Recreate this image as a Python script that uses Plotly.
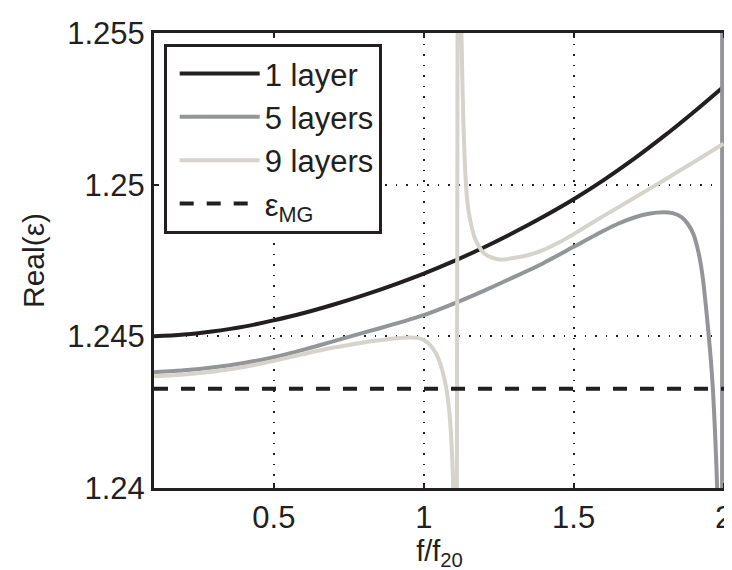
import plotly.graph_objects as go

# ---- data ----
x_one = [0.1, 0.2, 0.3, 0.4, 0.5, 0.6, 0.7, 0.8, 0.9, 1.0, 1.1, 1.2, 1.3, 1.4, 1.5,
         1.6, 1.7, 1.8, 1.9, 2.0]
y_one = [1.24500, 1.24506, 1.24517, 1.24532, 1.24553, 1.24577, 1.24605, 1.24636, 1.24670,
         1.24707, 1.24748, 1.24793, 1.24842, 1.24895, 1.24952, 1.25015, 1.25084, 1.25159,
         1.25239, 1.25323]

x_five = [0.1, 0.2, 0.3, 0.4, 0.5, 0.6, 0.7, 0.8, 0.9, 1.0, 1.1, 1.2, 1.3, 1.4, 1.5, 1.6,
          1.65, 1.7, 1.75, 1.8, 1.83, 1.86, 1.88, 1.9, 1.917, 1.93, 1.94, 1.95, 1.958,
          1.965, 1.971, 1.976, 1.98, 1.985, 1.99, 1.995, 1.996]
y_five = [1.24382, 1.24388, 1.24398, 1.24412, 1.24431, 1.24456, 1.24484, 1.24512, 1.24540,
          1.24570, 1.24608, 1.24650, 1.24695, 1.24742, 1.24795, 1.24848, 1.24872, 1.24891,
          1.24904, 1.24909, 1.24906, 1.24893, 1.24872, 1.24836, 1.24775, 1.24700, 1.24612,
          1.24510, 1.24420, 1.24320, 1.24200, 1.24080, 1.23960, 1.23700, 1.23200, 1.22000,
          1.30000]

x_nine = [0.1, 0.2, 0.3, 0.4, 0.5, 0.6, 0.7, 0.8, 0.85, 0.9, 0.95, 0.98, 1.0, 1.02, 1.04,
          1.055, 1.065, 1.075, 1.082, 1.088, 1.093, 1.097, 1.100, 1.103, 1.106, 1.108,
          1.116, 1.120, 1.124, 1.128, 1.132, 1.137, 1.143, 1.150, 1.160, 1.170, 1.185,
          1.200, 1.225, 1.250, 1.275, 1.300, 1.350, 1.400, 1.450, 1.500, 1.600, 1.700,
          1.800, 1.900, 2.000]
y_nine = [1.24368, 1.24374, 1.24384, 1.24399, 1.24419, 1.24442, 1.24463, 1.24480, 1.24487,
          1.24493, 1.24496, 1.24495, 1.24488, 1.24473, 1.24445, 1.24410, 1.24375, 1.24330,
          1.24280, 1.24220, 1.24140, 1.24040, 1.23920, 1.23700, 1.23300, 1.22800,
          1.27000, 1.26000, 1.25600, 1.25380, 1.25210, 1.25070, 1.24970, 1.24910, 1.24860,
          1.24825, 1.24795, 1.24775, 1.24760, 1.24754, 1.24754, 1.24758, 1.24768, 1.24785,
          1.24809, 1.24837, 1.24897, 1.24955, 1.25014, 1.25074, 1.25135]

x_mg = [0.1, 2.005]
y_mg = [1.24327, 1.24327]

x_ticks = [0.5, 1, 1.5, 2]
x_tick_labels = ["0.5", "1", "1.5", "2"]
y_ticks = [1.24, 1.245, 1.25, 1.255]
y_tick_labels = ["1.24", "1.245", "1.25", "1.255"]

names = ["1 layer", "5 layers", "9 layers", "ε<sub>MG</sub>"]

BLACK = "#231f20"
GRAY = "#939598"
LIGHT = "#d6d3cc"
FONT = "Liberation Sans, Arial, Helvetica, sans-serif"

fig = go.Figure()
fig.add_trace(go.Scatter(x=x_one, y=y_one, mode="lines", name=names[0],
                         line=dict(color=BLACK, width=4, shape="spline", smoothing=1.0)))
fig.add_trace(go.Scatter(x=x_five, y=y_five, mode="lines", name=names[1],
                         line=dict(color=GRAY, width=4, shape="spline", smoothing=0.6)))
fig.add_trace(go.Scatter(x=x_nine, y=y_nine, mode="lines", name=names[2],
                         line=dict(color=LIGHT, width=4, shape="spline", smoothing=0.6)))
fig.add_trace(go.Scatter(x=x_mg, y=y_mg, mode="lines", name=names[3],
                         line=dict(color=BLACK, width=4, dash="14px,13px")))

axis_common = dict(
    showline=True, linecolor=BLACK, linewidth=3,
    ticks="inside", ticklen=5, tickwidth=2, tickcolor=BLACK,
    showgrid=True, gridcolor=BLACK, gridwidth=1.5, griddash="1.5px,9px",
    zeroline=False,
    tickfont=dict(family=FONT, size=31, color=BLACK),
)

fig.update_xaxes(range=[0.1, 2.005], tickvals=x_ticks, ticktext=x_tick_labels,
                 mirror="ticks",
                 title=dict(text="f/f<sub>20</sub>", standoff=1,
                            font=dict(family=FONT, size=29, color=BLACK)),
                 **axis_common)
fig.update_yaxes(range=[1.24, 1.255], tickvals=y_ticks, ticktext=y_tick_labels,
                 mirror=False,
                 title=dict(text="Real(ε)", standoff=14,
                            font=dict(family=FONT, size=30, color=BLACK)),
                 **axis_common)

fig.update_layout(
    width=732, height=570,
    margin=dict(l=146, r=8, t=21, b=90),
    plot_bgcolor="white", paper_bgcolor="white",
    font=dict(family=FONT, color=BLACK),
    legend=dict(x=0.017, y=0.976, xanchor="left", yanchor="top",
                bgcolor="white", bordercolor=BLACK, borderwidth=3,
                font=dict(family=FONT, size=31, color=BLACK),
                itemwidth=80, indentation=8, tracegroupgap=0),
    showlegend=True,
)

fig.write_html("out.html")
